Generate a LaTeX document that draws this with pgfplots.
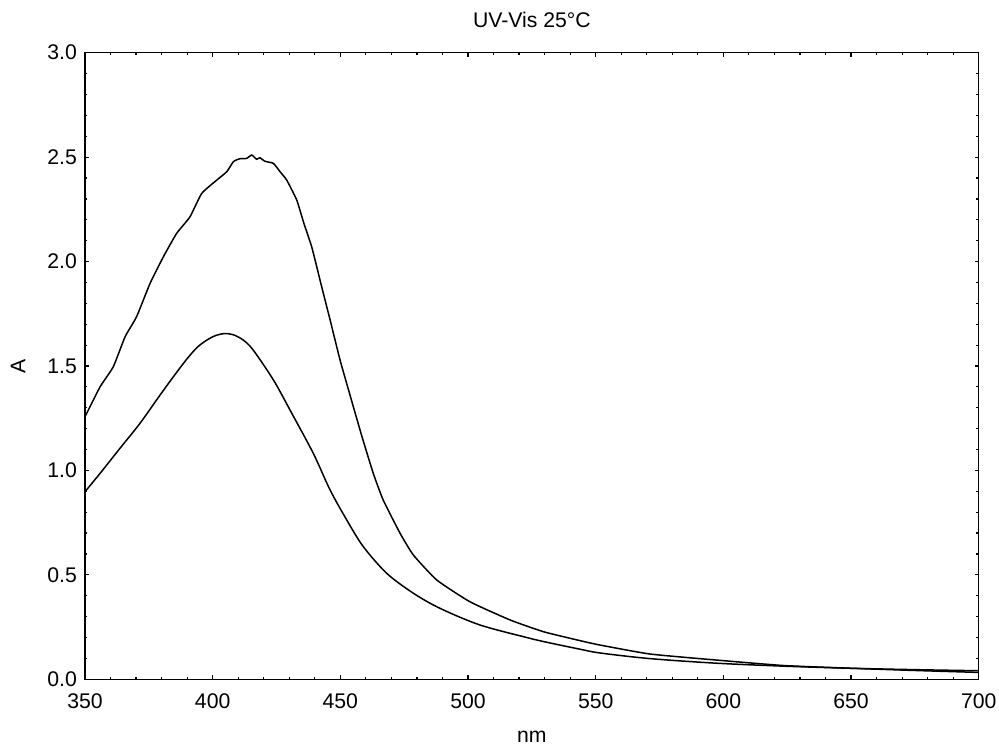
\documentclass[border=0pt]{standalone}
\usepackage{fontspec}
\setmainfont{Liberation Sans}
\usepackage{pgfplots}
\pgfplotsset{compat=1.18}
\begin{document}
\begin{tikzpicture}
\path[use as bounding box] (-42.5pt,-34.85pt) rectangle (457pt,339.65pt);
\begin{axis}[
  at={(0,0)}, anchor=south west,
  scale only axis, width=446.85pt, height=313.3pt,
  xmin=350, xmax=700, ymin=0, ymax=3,
  xtick={350,400,...,700}, ytick={0,0.5,...,3},
  minor x tick num=4, minor y tick num=4,
  tick align=inside, major tick length=2pt, minor tick length=1.2pt,
  tick style={black, line width=0.6pt},
  axis line style={line width=0.6pt},
  yticklabel style={xshift=-0.5pt, /pgf/number format/fixed, /pgf/number format/fixed zerofill, /pgf/number format/precision=1},
  /pgf/number format/assume math mode=true,
  ticklabel style={font=\fontsize{10.6}{12}\selectfont},
  xticklabel style={yshift=-3.5pt},
  xlabel={nm}, ylabel={A},
  label style={font=\fontsize{10.6}{12}\selectfont},
  xlabel style={at={(axis description cs:0.5,-0.092)}, anchor=center},
  ylabel style={at={(axis description cs:-0.075,0.5)}, anchor=center},
  title={UV-Vis 25°C}, title style={font=\fontsize{10.6}{12}\selectfont, at={(axis description cs:0.5,1)}, anchor=center, yshift=10.3pt},
]
\addplot[black, no marks, line width=0.75pt, smooth, tension=0.3] coordinates {
(350,1.257)(355.9,1.40)(361.1,1.497)(365.7,1.64)(370.2,1.736)(375.5,1.896)(380.7,2.023)
(385.9,2.135)(391.1,2.214)(395.7,2.326)(401.6,2.39)(405.5,2.43)(408.1,2.478)(410.5,2.492)
(413.3,2.494)(415.3,2.51)(417.2,2.49)(418.5,2.497)(420.5,2.48)(423.8,2.47)(426.4,2.43)
(429,2.39)(432.9,2.295)(435.8,2.18)(438.8,2.07)(442.7,1.879)(446,1.72)(449.9,1.528)
(453.8,1.36)(458.4,1.165)(462.9,0.986)(466.8,0.858)(473.4,0.699)(478.6,0.595)
(487.8,0.475)(500.8,0.371)(516.5,0.284)(529.5,0.228)(543.9,0.185)(551.7,0.164)(571.3,0.121)
(597.4,0.092)(623.5,0.066)(649.5,0.053)(675.7,0.042)(700,0.033)
};
\addplot[black, no marks, line width=0.75pt, smooth, tension=0.5] coordinates {
(350,0.898)(355.9,0.986)(363.7,1.106)(371.5,1.225)(379.4,1.361)(385,1.455)(390,1.535)(394,1.59)
(397.7,1.624)(401,1.645)(404.5,1.655)(408,1.65)(412,1.624)(415.9,1.576)(423.8,1.433)(430.3,1.289)
(439.4,1.082)(446,0.906)(452.5,0.763)(459,0.635)(468.2,0.507)(478.6,0.412)(489,0.34)
(504.7,0.26)(524.3,0.196)(532.1,0.174)(543.9,0.144)(551.7,0.126)(571.3,0.099)(597.4,0.077)
(623.5,0.063)(649.5,0.053)(675.7,0.046)(700,0.041)
};
\end{axis}
\end{tikzpicture}
\end{document}
